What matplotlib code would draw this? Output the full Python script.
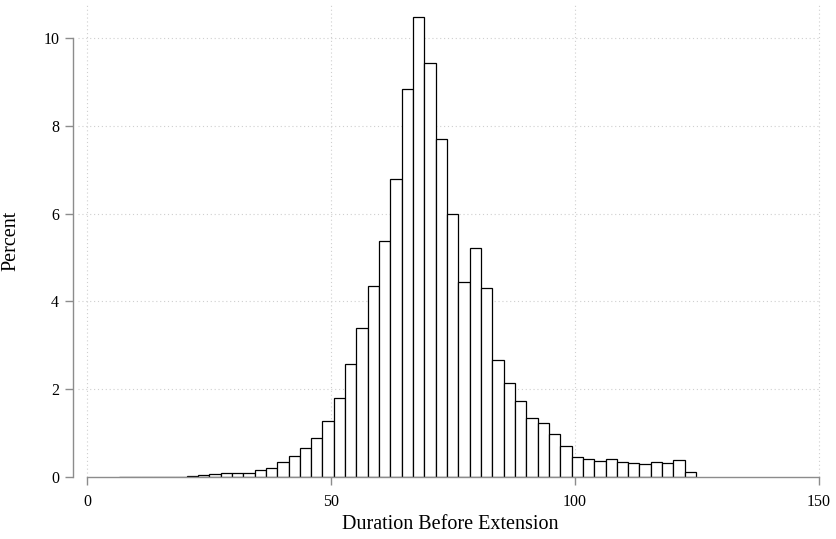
import numpy as np
import matplotlib.pyplot as plt

plt.rcParams['font.family'] = ['Liberation Serif', 'DejaVu Serif']

# Histogram of duration before extension (percent of observations per bin)
bin_start = 6.5
bin_width = 2.32
percent = [
    0.01, 0.01, 0.008, 0.01, 0.01, 0.008,
    0.03, 0.05, 0.07, 0.10, 0.10, 0.10,
    0.15, 0.21, 0.35, 0.48, 0.65, 0.89,
    1.27, 1.80, 2.58, 3.39, 4.34, 5.38,
    6.78, 8.84, 10.47, 9.42, 7.70, 5.99,
    4.45, 5.21, 4.30, 2.67, 2.14, 1.72,
    1.34, 1.24, 0.97, 0.70, 0.46, 0.42,
    0.36, 0.40, 0.34, 0.33, 0.30, 0.34,
    0.32, 0.39, 0.11,
]
edges = bin_start + bin_width * np.arange(len(percent) + 1)

xticks = [0, 50, 100, 150]
yticks = [0, 2, 4, 6, 8, 10]

fig = plt.figure(figsize=(8.36, 5.39), dpi=100)
ax = fig.add_axes([78.2 / 836, 1 - 477 / 539, 743.2 / 836, 472 / 539])

axis_gray = '#8c8c8c'
grid_gray = '#cfcfcf'

for x in xticks:
    ax.axvline(x, color=grid_gray, linestyle=(0, (1, 2.5)), linewidth=0.8, zorder=0)
for y in yticks[1:]:
    ax.axhline(y, color=grid_gray, linestyle=(0, (1, 2.5)), linewidth=0.8, zorder=0)

ax.bar(edges[:-1], percent, width=np.diff(edges), align='edge',
       facecolor='white', edgecolor='black', linewidth=0.9, zorder=2)

ax.set_xlim(-1.8, 150.5)
ax.set_ylim(0, 10.75)

for side in ['top', 'right']:
    ax.spines[side].set_visible(False)
# y axis sits a little to the left of the plot region
ax.spines['left'].set_position(('outward', 3.7))
ax.spines['left'].set_bounds(0, 10)
ax.spines['bottom'].set_bounds(0, 150)
for side in ['left', 'bottom']:
    ax.spines[side].set_color(axis_gray)
    ax.spines[side].set_linewidth(1.0)
    ax.spines[side].set_zorder(3)

ax.set_xticks(xticks)
ax.set_yticks(yticks)
ax.tick_params(axis='both', direction='out', length=6, width=1.0,
               color=axis_gray, labelsize=11.5, labelcolor='black')
ax.tick_params(axis='x', pad=6)
ax.tick_params(axis='y', pad=4)

ax.set_xlabel('Duration Before Extension', fontsize=14.5, labelpad=4)
ax.set_ylabel('Percent', fontsize=14.5)
ax.yaxis.set_label_coords((20 - 78.2) / 743.2, 0.5)

fig.savefig('out.png', dpi=100)
